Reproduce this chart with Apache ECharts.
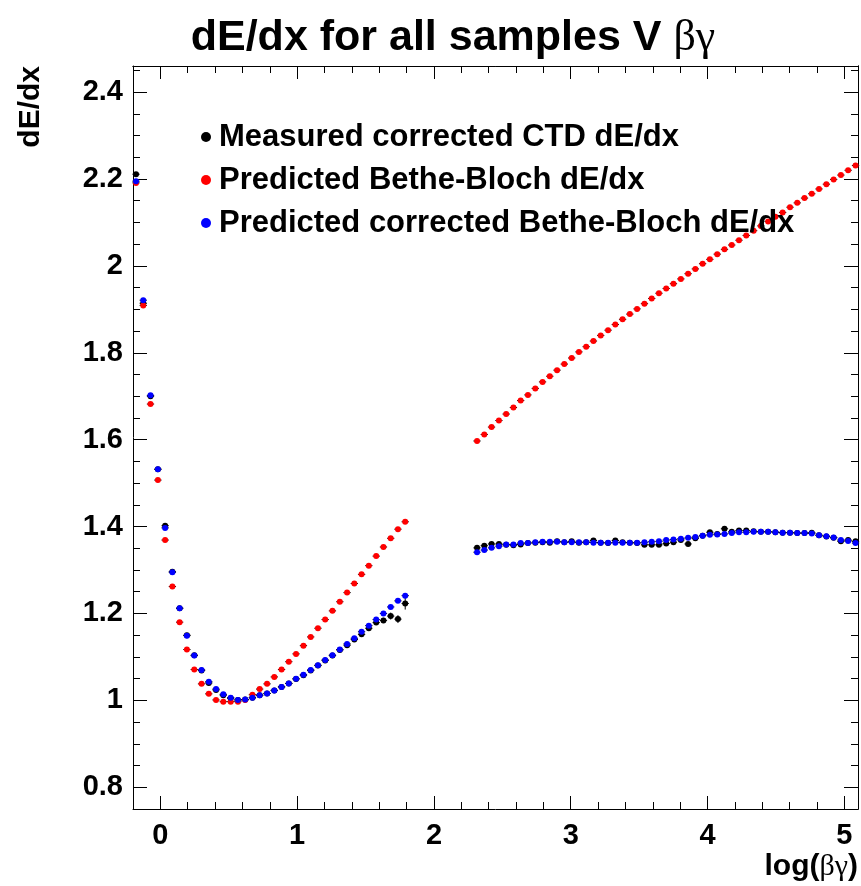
<!DOCTYPE html>
<html><head><meta charset="utf-8">
<script src="https://cdn.jsdelivr.net/npm/echarts@6/dist/echarts.min.js"></script>
<style>html,body{margin:0;padding:0;background:#fff}#c{width:861px;height:886px}</style>
</head><body><div id="c"></div>
<script>
// bin centres, log(beta*gamma)
const xLow = [-0.178, -0.125, -0.072, -0.018, 0.035, 0.088, 0.141, 0.194, 0.248, 0.301,
  0.354, 0.407, 0.460, 0.514, 0.567, 0.620, 0.673, 0.726, 0.780, 0.833,
  0.886, 0.939, 0.992, 1.046, 1.099, 1.152, 1.205, 1.258, 1.312, 1.365,
  1.418, 1.471, 1.524, 1.578, 1.631, 1.684, 1.737, 1.790];
const xHigh = [2.315, 2.368, 2.421, 2.475, 2.528, 2.581, 2.634, 2.687, 2.741, 2.794,
  2.847, 2.900, 2.953, 3.007, 3.060, 3.113, 3.166, 3.219, 3.273, 3.326,
  3.379, 3.432, 3.485, 3.539, 3.592, 3.645, 3.698, 3.751, 3.805, 3.858,
  3.911, 3.964, 4.017, 4.071, 4.124, 4.177, 4.230, 4.283, 4.337, 4.390,
  4.443, 4.496, 4.549, 4.603, 4.656, 4.709, 4.762, 4.815, 4.869, 4.922,
  4.975, 5.028, 5.082];
const binHalfWidth = 0.0266;

const measuredLow = [2.211, 1.914, 1.700, 1.532, 1.402, 1.296, 1.212, 1.150, 1.104, 1.069,
  1.040, 1.024, 1.012, 1.005, 1.001, 1.002, 1.006, 1.012, 1.016, 1.023,
  1.031, 1.039, 1.049, 1.058, 1.069, 1.080, 1.092, 1.103, 1.116, 1.127,
  1.140, 1.152, 1.166, 1.179, 1.184, 1.194, 1.187, 1.223];
const measuredHigh = [1.351, 1.356, 1.360, 1.360, 1.358, 1.357, 1.359, 1.362, 1.363, 1.364,
  1.363, 1.366, 1.364, 1.366, 1.363, 1.364, 1.368, 1.363, 1.362, 1.368,
  1.364, 1.363, 1.362, 1.358, 1.358, 1.358, 1.361, 1.364, 1.369, 1.360,
  1.373, 1.379, 1.387, 1.383, 1.395, 1.388, 1.391, 1.391, 1.389, 1.388,
  1.388, 1.387, 1.386, 1.386, 1.385, 1.385, 1.386, 1.380, 1.377, 1.374,
  1.366, 1.369, 1.366];
const measuredErrLow = [0.004, 0.004, 0.003, 0.003, 0.003, 0.002, 0.002, 0.002, 0.002, 0.002,
  0.002, 0.002, 0.002, 0.002, 0.002, 0.002, 0.002, 0.002, 0.002, 0.002,
  0.002, 0.002, 0.002, 0.002, 0.002, 0.003, 0.003, 0.003, 0.003, 0.003,
  0.003, 0.004, 0.004, 0.005, 0.006, 0.008, 0.009, 0.014];
const measuredErrHigh = [0.004, 0.003, 0.003, 0.003, 0.003, 0.003, 0.003, 0.003, 0.003, 0.003,
  0.003, 0.003, 0.003, 0.003, 0.003, 0.003, 0.003, 0.003, 0.003, 0.003,
  0.003, 0.003, 0.003, 0.003, 0.003, 0.003, 0.003, 0.003, 0.003, 0.004,
  0.003, 0.003, 0.003, 0.003, 0.004, 0.003, 0.003, 0.003, 0.003, 0.003,
  0.003, 0.003, 0.003, 0.003, 0.003, 0.003, 0.003, 0.003, 0.003, 0.003,
  0.004, 0.004, 0.004];

const predictedLow = [2.191, 1.909, 1.682, 1.507, 1.369, 1.262, 1.180, 1.117, 1.071, 1.038,
  1.015, 1.001, 0.997, 0.997, 0.997, 1.001, 1.013, 1.026, 1.038, 1.054,
  1.071, 1.089, 1.107, 1.126, 1.146, 1.166, 1.186, 1.206, 1.227, 1.248,
  1.269, 1.290, 1.310, 1.332, 1.353, 1.373, 1.394, 1.411];
const predictedHigh = [1.597, 1.612, 1.629, 1.644, 1.659, 1.674, 1.690, 1.703, 1.718, 1.733,
  1.746, 1.760, 1.774, 1.788, 1.802, 1.814, 1.827, 1.840, 1.852, 1.865,
  1.877, 1.889, 1.901, 1.913, 1.925, 1.937, 1.948, 1.959, 1.970, 1.982,
  1.993, 2.005, 2.015, 2.027, 2.038, 2.048, 2.059, 2.070, 2.081, 2.092,
  2.102, 2.113, 2.123, 2.135, 2.145, 2.156, 2.166, 2.177, 2.188, 2.199,
  2.209, 2.220, 2.231];

const correctedLow = [2.195, 1.921, 1.702, 1.532, 1.397, 1.295, 1.212, 1.149, 1.103, 1.070,
  1.043, 1.026, 1.014, 1.006, 1.001, 1.002, 1.006, 1.012, 1.016, 1.023,
  1.031, 1.039, 1.050, 1.059, 1.070, 1.081, 1.093, 1.104, 1.117, 1.130,
  1.143, 1.158, 1.172, 1.186, 1.200, 1.215, 1.229, 1.241];
const correctedHigh = [1.341, 1.346, 1.351, 1.355, 1.359, 1.359, 1.362, 1.362, 1.364, 1.365,
  1.365, 1.365, 1.364, 1.364, 1.364, 1.364, 1.363, 1.363, 1.363, 1.363,
  1.363, 1.363, 1.363, 1.364, 1.365, 1.366, 1.369, 1.370, 1.372, 1.374,
  1.376, 1.379, 1.381, 1.382, 1.383, 1.385, 1.387, 1.387, 1.388, 1.388,
  1.388, 1.387, 1.386, 1.386, 1.385, 1.385, 1.384, 1.380, 1.378, 1.375,
  1.369, 1.367, 1.362];

const seriesNames = ['Measured corrected CTD dE/dx', 'Predicted Bethe-Bloch dE/dx', 'Predicted corrected Bethe-Bloch dE/dx'];
const seriesColors = ['#000000', '#ff0000', '#0000ff'];

const xMajor = [0, 1, 2, 3, 4, 5];
const xMinor = [-0.2, 0.2, 0.4, 0.6, 0.8, 1.2, 1.4, 1.6, 1.8, 2.2, 2.4, 2.6, 2.8, 3.2, 3.4, 3.6, 3.8, 4.2, 4.4, 4.6, 4.8];
const yMajor = [0.8, 1.0, 1.2, 1.4, 1.6, 1.8, 2.0, 2.2, 2.4];
const yMinor = [0.75, 0.85, 0.9, 0.95, 1.05, 1.1, 1.15, 1.25, 1.3, 1.35, 1.45, 1.5, 1.55, 1.65, 1.7, 1.75, 1.85, 1.9, 1.95, 2.05, 2.1, 2.15, 2.25, 2.3, 2.35, 2.45];

const xs = xLow.concat(xHigh);
function points(lo, hi) { const ys = lo.concat(hi); return xs.map((x, i) => [x, ys[i]]); }
function bars(lo, hi, elo, ehi) {
  const ys = lo.concat(hi);
  const es = elo ? elo.concat(ehi) : null;
  return xs.map((x, i) => [x, ys[i], binHalfWidth, es ? es[i] : 0]);
}
const ys = [[measuredLow, measuredHigh], [predictedLow, predictedHigh], [correctedLow, correctedHigh]];

const FONT = 'Liberation Sans, Arial, sans-serif';
const XMIN = -0.2, XMAX = 5.1, YMIN = 0.75, YMAX = 2.46;

function xAxis(pos, vals, len, labels) {
  return {
    type: 'value', min: XMIN, max: XMAX, position: pos,
    axisLine: { show: !!labels || pos === 'top', onZero: false, lineStyle: { color: '#000', width: 1 } },
    axisTick: { show: true, inside: true, length: len, customValues: vals, lineStyle: { color: '#000', width: 1 } },
    axisLabel: labels ? { show: true, customValues: vals, margin: 12, color: '#000', fontSize: 29, fontWeight: 'bold', fontFamily: FONT, formatter: v => String(Math.round(v)) } : { show: false },
    splitLine: { show: false }
  };
}
function yAxis(pos, vals, len, labels) {
  return {
    type: 'value', min: YMIN, max: YMAX, position: pos,
    axisLine: { show: !!labels || pos === 'right', onZero: false, lineStyle: { color: '#000', width: 1 } },
    axisTick: { show: true, inside: true, length: len, customValues: vals, lineStyle: { color: '#000', width: 1 } },
    axisLabel: labels ? { show: true, customValues: vals, margin: 10, color: '#000', fontSize: 29, fontWeight: 'bold', fontFamily: FONT, formatter: v => String(Math.round(v * 10) / 10) } : { show: false },
    splitLine: { show: false }
  };
}

const series = [];
ys.forEach((pair, k) => {
  series.push({
    type: 'custom', xAxisIndex: 0, yAxisIndex: 0, z: 1, silent: true,
    data: k === 0 ? bars(pair[0], pair[1], measuredErrLow, measuredErrHigh) : bars(pair[0], pair[1]),
    encode: { x: 0, y: 1 },
    renderItem: function (params, api) {
      const x = api.value(0), y = api.value(1), ex = api.value(2), ey = api.value(3);
      const l = api.coord([x - ex, y]), r = api.coord([x + ex, y]);
      const b = api.coord([x, y - ey]), t = api.coord([x, y + ey]);
      return { type: 'group', children: [
        { type: 'line', shape: { x1: l[0], y1: l[1], x2: r[0], y2: r[1] }, style: { stroke: '#000', lineWidth: 1 } },
        { type: 'line', shape: { x1: b[0], y1: b[1], x2: t[0], y2: t[1] }, style: { stroke: '#000', lineWidth: 1 } }
      ] };
    }
  });
});
ys.forEach((pair, k) => {
  series.push({
    name: seriesNames[k], type: 'scatter', xAxisIndex: 0, yAxisIndex: 0, z: 2 + k,
    symbol: 'circle', symbolSize: 6, itemStyle: { color: seriesColors[k], opacity: 1 },
    data: points(pair[0], pair[1]), animation: false
  });
});

const chart = echarts.init(document.getElementById('c'), null, { renderer: 'canvas' });
chart.setOption({
  animation: false,
  backgroundColor: '#fff',
  grid: { left: 133, right: 3, top: 66, bottom: 77, containLabel: false },
  xAxis: [xAxis('bottom', xMajor, 13, true), xAxis('bottom', xMinor, 7, false), xAxis('top', xMajor, 13, false), xAxis('top', xMinor, 7, false)],
  yAxis: [yAxis('left', yMajor, 14, true), yAxis('left', yMinor, 7, false), yAxis('right', yMajor, 14, false), yAxis('right', yMinor, 7, false)],
  legend: {
    data: seriesNames, orient: 'vertical', left: 196, top: 115,
    icon: 'circle', itemWidth: 10, itemHeight: 10, itemGap: 9, selectedMode: false,
    textStyle: { fontSize: 31, fontWeight: 'bold', fontFamily: FONT, color: '#000', lineHeight: 34, padding: [0, 0, 0, 3] }
  },
  graphic: [
    { type: 'text', x: 453, y: 38, style: { text: '{b|dE/dx for all samples V }{g|βγ}', textAlign: 'center', textVerticalAlign: 'middle',
      rich: { b: { fontSize: 43, fontWeight: 'bold', fontFamily: FONT, fill: '#000' }, g: { fontSize: 44, fontFamily: 'Liberation Serif, serif', fill: '#000' } } } },
    { type: 'text', x: 858, y: 867, style: { text: '{b|log(}{g|βγ}{b|)}', textAlign: 'right', textVerticalAlign: 'middle',
      rich: { b: { fontSize: 30, fontWeight: 'bold', fontFamily: FONT, fill: '#000' }, g: { fontSize: 30, fontFamily: 'Liberation Serif, serif', fill: '#000' } } } },
    { type: 'text', x: 31, y: 66, rotation: Math.PI / 2, style: { text: 'dE/dx', textAlign: 'right', textVerticalAlign: 'middle', fontSize: 30, fontWeight: 'bold', fontFamily: FONT, fill: '#000' } }
  ],
  series: series
});
</script>
</body></html>
